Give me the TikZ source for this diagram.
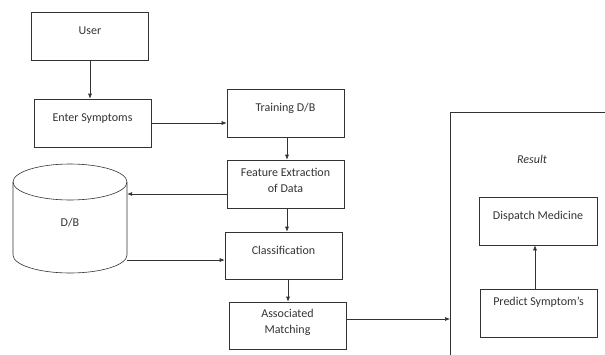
\documentclass[tikz,border=0pt]{standalone}
\usepackage{fontspec}
\setmainfont{Carlito}
\usetikzlibrary{arrows.meta}

\begin{document}
\begin{tikzpicture}[x=1pt, y=-1pt, font=\fontsize{12}{16}\selectfont,
  box/.style={draw=black!80, line width=0.6pt, minimum width=117pt, minimum height=48pt,
    text height=8pt, text depth=10.4pt, align=center, text=black!80},
  twoline/.style={text height=24pt, text depth=7.4pt},
  flow/.style={draw=black!80, line width=0.6pt, -{Latex[length=5pt, width=4pt]}}]
\clip (0,0) rectangle (605,354);

% Left column
\node[box] (user) at (90,36) {User};
\node[box] (enter) at (92.5,123) {Enter Symptoms};

% Database (cylinder drawn round the node)
\node[minimum width=114pt, minimum height=109pt, inner sep=0pt,
  label={[text=black!80, yshift=-4.5pt]center:D/B}] (db) at (70,218.5) {};
\draw[black!80, line width=0.6pt] (70,182) ellipse [x radius=57pt, y radius=18pt];
\draw[black!80, line width=0.6pt] (13,182) -- (13,255)
  arc[start angle=180, end angle=360, x radius=57pt, y radius=18pt] -- (127,182);

% Middle column
\node[box] (train) at (285.5,113) {Training D/B};
\node[box, twoline] (feat) at (285.5,184) {Feature Extraction\\of Data};
\node[box, minimum height=47pt] (class) at (283.5,255.5) {Classification};
\node[box, twoline, minimum height=47pt] (assoc) at (287.5,325.5) {Associated\\Matching};

% Result panel
\node[draw=black!80, line width=0.6pt, anchor=north west, minimum width=220pt,
  minimum height=280pt] (result) at (450,112) {};
\node[font=\fontsize{12}{16}\selectfont\itshape, text=black!80] (restitle) at (532,159) {Result};
\node[box, minimum width=118pt] (dispatch) at (538,221) {Dispatch Medicine};
\node[box, text depth=22.4pt] (predict) at (538.5,313) {Predict Symptom’s};

% Arrows
\draw[flow] (user.south) -- (user.south |- enter.north);
\draw[flow] (enter.east) -- (enter.east -| train.west);
\draw[flow] (train.south -| 287,0) -- (feat.north -| 287,0);
\draw[flow] ([yshift=-10pt]feat.west) -- ([yshift=-10pt]feat.west -| db.east);
\draw[flow] (feat.south -| 287,0) -- (class.north -| 287,0);
\draw[flow] ([yshift=-41.5pt]db.east) -- ([yshift=-41.5pt]db.east -| class.west);
\draw[flow] (class.south -| 288,0) -- (assoc.north -| 288,0);
\draw[flow] ([yshift=6.5pt]assoc.east) -- ([yshift=6.5pt]assoc.east -| result.west);
\draw[flow] (predict.north -| 535,0) -- (dispatch.south -| 535,0);

\end{tikzpicture}
\end{document}
